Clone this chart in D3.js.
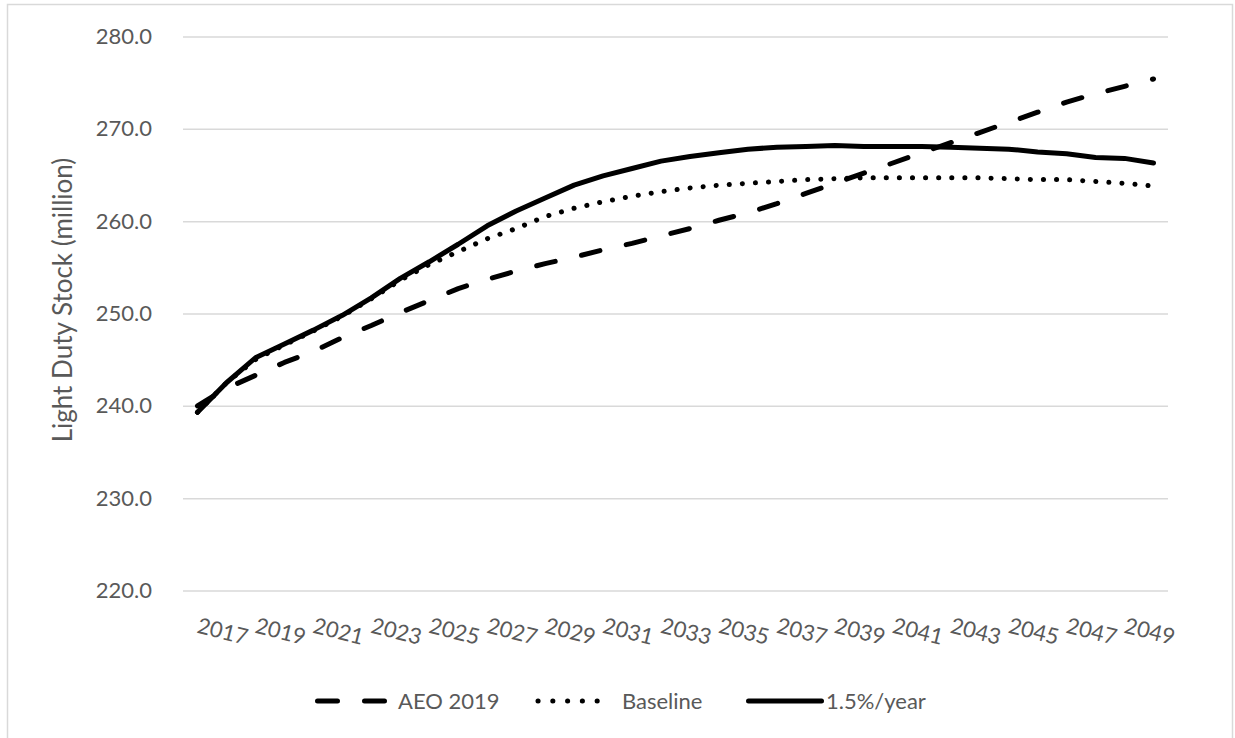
<!DOCTYPE html>
<html>
<head>
<meta charset="utf-8">
<script src="https://cdn.jsdelivr.net/npm/d3@7"></script>
<style>
  html, body { margin: 0; padding: 0; background: #fff; }
  svg { display: block; font-family: Lato, "Open Sans", sans-serif; }
</style>
</head>
<body>
<svg id="chart" width="1235" height="738"></svg>
<script>
const years = d3.range(2017, 2051).map(String);
const yTicks = [220, 230, 240, 250, 260, 270, 280];
const xTickLabels = years.filter((d, i) => i % 2 === 0);

const aeo2019 = [240.0, 241.9, 243.3, 244.7, 245.9, 247.4, 248.7, 250.1, 251.4, 252.7,
  253.7, 254.6, 255.4, 256.1, 256.9, 257.6, 258.4, 259.2, 260.1, 260.9,
  261.9, 263.0, 264.1, 265.2, 266.3, 267.4, 268.5, 269.6, 270.7, 271.8,
  272.9, 273.8, 274.6, 275.4];
const baseline = [239.3, 242.5, 245.0, 246.6, 248.1, 249.7, 251.6, 253.6, 255.3, 256.7,
  258.1, 259.2, 260.5, 261.4, 262.1, 262.7, 263.2, 263.6, 263.9, 264.1,
  264.3, 264.5, 264.6, 264.7, 264.7, 264.7, 264.7, 264.7, 264.6, 264.5,
  264.5, 264.3, 264.1, 263.8];
const pct15 = [239.3, 242.5, 245.2, 246.7, 248.2, 249.8, 251.7, 253.8, 255.6, 257.5,
  259.5, 261.1, 262.5, 263.9, 264.9, 265.7, 266.5, 267.0, 267.4, 267.8,
  268.0, 268.1, 268.2, 268.1, 268.1, 268.1, 268.0, 267.9, 267.8, 267.5,
  267.3, 266.9, 266.8, 266.3];

const seriesNames = ["AEO 2019", "Baseline", "1.5%/year"];
const seriesData = [aeo2019, baseline, pct15];

const svg = d3.select("#chart");
const textColor = "#595959";
const gridColor = "#d9d9d9";

// chart border
svg.append("rect").attr("x", 7.5).attr("y", 4.5).attr("width", 1225).attr("height", 745)
  .attr("fill", "none").attr("stroke", gridColor).attr("stroke-width", 1.5);

const x = d3.scaleBand().domain(years).range([183, 1168]).padding(0);
const xc = d => x(d) + x.bandwidth() / 2;
const y = d3.scaleLinear().domain([220, 280]).range([590.5, 36.5]);

// gridlines + y labels via axis
const yAxis = d3.axisLeft(y).tickValues(yTicks).tickFormat(d3.format(".1f")).tickSize(-(1168 - 183)).tickPadding(31);
const gy = svg.append("g").attr("transform", "translate(183,0)").call(yAxis);
gy.select(".domain").remove();
gy.selectAll(".tick line").attr("stroke", gridColor).attr("stroke-width", 1.5);
gy.selectAll(".tick text").attr("fill", textColor).style("font-size", "22px").style("font-family", "Lato");

// x labels
const xAxis = d3.axisBottom(x).tickValues(xTickLabels).tickSize(0);
const gx = svg.append("g").attr("transform", "translate(0,590.5)").call(xAxis);
gx.select(".domain").remove();
gx.selectAll(".tick text")
  .attr("fill", textColor)
  .style("font-size", "22px").style("font-family", "Lato")
  .attr("text-anchor", "start")
  .attr("y", 0).attr("dy", 0)
  .attr("transform", "translate(-1.5,42) rotate(14)");

// y title
svg.append("text")
  .attr("transform", "translate(72,300) rotate(-90)")
  .attr("text-anchor", "middle")
  .attr("fill", textColor)
  .style("font-size", "26px")
  .text("Light Duty Stock (million)");

const line = d3.line().x((d, i) => xc(years[i])).y(d => y(d));

const styles = [
  { dash: "19,27", cap: "round" },
  { dash: "0.1,13", cap: "round" },
  { dash: null, cap: "round" }
];

seriesData.forEach((s, k) => {
  svg.append("path").datum(s)
    .attr("d", line)
    .attr("fill", "none")
    .attr("stroke", "#000")
    .attr("stroke-width", 5)
    .attr("stroke-linecap", styles[k].cap)
    .attr("stroke-linejoin", "round")
    .attr("stroke-dasharray", styles[k].dash);
});

// legend
const legendY = 701;
const legendItems = [
  { x1: 317.5, x2: 385.5, tx: 398, dash: "20,27" },
  { x1: 538, x2: 611.5, tx: 622, dash: "0.1,14.68" },
  { x1: 748.5, x2: 821.5, tx: 826, dash: null }
];
legendItems.forEach((it, k) => {
  svg.append("line").attr("x1", it.x1).attr("x2", it.x2).attr("y1", legendY).attr("y2", legendY)
    .attr("stroke", "#000").attr("stroke-width", 5).attr("stroke-linecap", "round")
    .attr("stroke-dasharray", it.dash);
  svg.append("text").attr("x", it.tx).attr("y", legendY).attr("dy", "0.35em")
    .attr("fill", textColor).style("font-size", "22px").text(seriesNames[k]);
});
</script>
</body>
</html>
